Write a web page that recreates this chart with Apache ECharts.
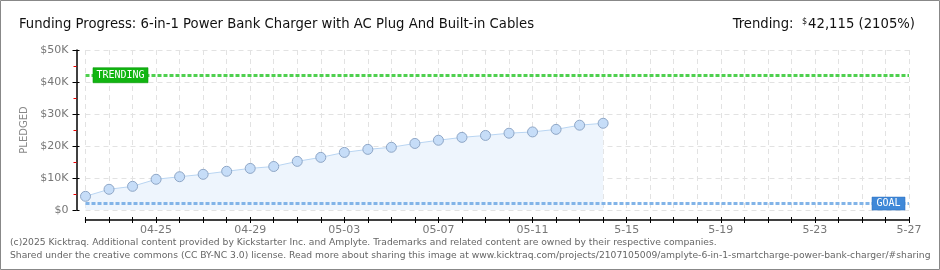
<!DOCTYPE html>
<html><head><meta charset="utf-8">
<script src="https://cdn.jsdelivr.net/npm/echarts@6/dist/echarts.min.js"></script>
<style>html,body{margin:0;padding:0;background:#fff}#c{width:940px;height:270px}</style>
</head><body><div id="c"></div>
<script>
const categories = ["04-22","04-23","04-24","04-25","04-26","04-27","04-28","04-29","04-30","05-01","05-02","05-03","05-04","05-05","05-06","05-07","05-08","05-09","05-10","05-11","5-12","5-13","5-14","5-15","5-16","5-17","5-18","5-19","5-20","5-21","5-22","5-23","5-24","5-25","5-26","5-27"];
const pledged = [4280,6470,7400,9600,10400,11150,12100,13000,13600,15200,16450,18000,18950,19600,20800,21800,22700,23300,24000,24400,25200,26500,27100];
const trendingValue = 42115;
const goalValue = 2000;
const titleText = "Funding Progress: 6-in-1 Power Bank Charger with AC Plug And Built-in Cables";
const footer1 = "(c)2025 Kicktraq. Additional content provided by Kickstarter Inc. and Amplyte. Trademarks and related content are owned by their respective companies.";
const footer2 = "Shared under the creative commons (CC BY-NC 3.0) license. Read more about sharing this image at www.kicktraq.com/projects/2107105009/amplyte-6-in-1-smartcharge-power-bank-charger/#sharing";

const chart = echarts.init(document.getElementById('c'), null, {renderer:'canvas'});
const titleFont = '"Liberation Sans Narrow","DejaVu Sans Condensed","Roboto Condensed",sans-serif';
chart.setOption({
  animation:false,
  textStyle:{fontFamily:'"DejaVu Sans",sans-serif'},
  title:[
    {text:titleText, left:14, top:12, textStyle:{fontFamily:titleFont, fontSize:14.7, fontWeight:'normal', color:'#111'}},
    {text:'{l|Trending:  }{s|$}{l|42,115 (2105%)}', right:20, top:12,
     textStyle:{fontWeight:'normal', rich:{l:{fontFamily:titleFont, fontSize:14.7, fontWeight:'normal', color:'#111'}, s:{fontFamily:titleFont, fontSize:9, fontWeight:'normal', color:'#111', verticalAlign:'top', padding:[0,1,6,0]}}}}
  ],
  grid:{left:85.5, right:31, top:50, bottom:60},
  xAxis:[{type:'category', data:categories, boundaryGap:false, offset:10,
    axisLine:{onZero:false, lineStyle:{color:'#000', width:1.5}},
    axisTick:{show:true, interval:0, length:3, lineStyle:{color:'#000'}},
    axisLabel:{interval:(i)=> i>=3 && (i-3)%4===0, color:'#777', fontSize:11, margin:5},
    splitLine:{show:true, interval:0, lineStyle:{color:'#e2e2e2', type:[5,4]}}
  },{type:'category', data:categories, boundaryGap:false, offset:10, position:'bottom',
    axisLine:{show:false, onZero:false}, axisLabel:{show:false}, splitLine:{show:false},
    axisTick:{show:true, inside:true, interval:0, length:3, lineStyle:{color:'#000'}}
  }],
  yAxis:[{type:'value', min:0, max:50000, interval:10000, offset:9,
    name:'PLEDGED', nameLocation:'middle', nameGap:41, nameRotate:90,
    nameTextStyle:{color:'#888', fontSize:10},
    axisLine:{show:true, onZero:false, lineStyle:{color:'#000', width:1.5}},
    axisTick:{show:true, length:4, lineStyle:{color:'#000'}},
    minorTick:{show:true, splitNumber:2, length:3, lineStyle:{color:'#e00'}},
    axisLabel:{color:'#777', fontSize:11, margin:8, formatter:(v)=> v===0?'$0':'$'+(v/1000)+'K'},
    splitLine:{show:true, lineStyle:{color:'#e2e2e2', type:[5,4]}}
  },{type:'value', min:0, max:50000, interval:10000, offset:9, position:'left',
    axisLine:{show:false, onZero:false}, axisLabel:{show:false}, splitLine:{show:false},
    axisTick:{show:true, inside:true, length:3, lineStyle:{color:'#000'}}
  }],
  series:[{
    type:'line', data:pledged, symbol:'circle', symbolSize:10, showSymbol:true,
    lineStyle:{color:'#b9d5f2', width:1},
    itemStyle:{color:'#c6ddf8', borderColor:'#8ea6c6', borderWidth:1},
    areaStyle:{color:'#eef5fd', opacity:1},
    z:3,
    markLine:{silent:true, symbol:'none', label:{show:false}, z:4,
      data:[
        {yAxis:trendingValue, lineStyle:{color:'#4fd04f', width:3, type:[4,2]}},
        {yAxis:goalValue, lineStyle:{color:'#82b4e8', width:3, type:[4,2]}}
      ]},
    markPoint:{silent:true, z:5,
      data:[
        {coord:[categories[0], trendingValue], symbol:'rect', symbolSize:[55,15], symbolOffset:[35,0],
         itemStyle:{color:'#11b511', borderColor:'#0a9a0a', borderWidth:0.5}, label:{show:true, formatter:'TRENDING', color:'#fff', fontSize:10, fontFamily:'"DejaVu Sans Mono",monospace'}},
        {coord:[categories[categories.length-1], goalValue], symbol:'rect', symbolSize:[33,13], symbolOffset:[-20.5,0],
         itemStyle:{color:'#3f88d8', borderColor:'#2f70c0', borderWidth:0.5}, label:{show:true, formatter:'GOAL', color:'#fff', fontSize:10, fontFamily:'"DejaVu Sans Mono",monospace'}}
      ]}
  }],
  graphic:[
    {type:'rect', shape:{x:0.5,y:0.5,width:939,height:269}, style:{fill:'none', stroke:'#888', lineWidth:1}, silent:true},
    {type:'text', left:10, top:238, style:{text:footer1, fill:'#666', font:'9.2px "DejaVu Sans",sans-serif'}},
    {type:'text', left:10, top:251, style:{text:footer2, fill:'#666', font:'9.2px "DejaVu Sans",sans-serif'}}
  ]
});
</script></body></html>
